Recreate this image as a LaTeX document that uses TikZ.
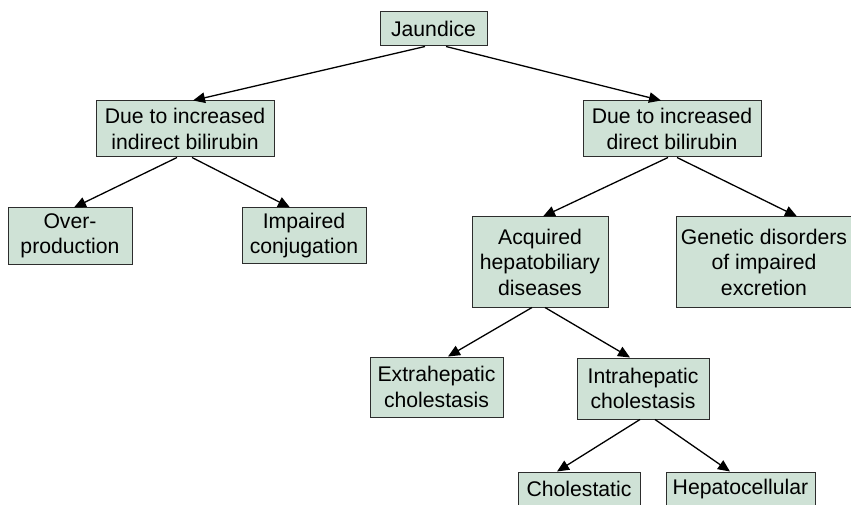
\documentclass[tikz,border=0pt]{standalone}
\usepackage{fontspec}
\setmainfont{Liberation Sans}
\usetikzlibrary{arrows.meta}
\definecolor{boxfill}{RGB}{207,226,214}
\definecolor{boxline}{RGB}{45,45,45}
\begin{document}
\begin{tikzpicture}[x=1pt,y=-1pt,
  box/.style={draw=boxline, line width=1pt, fill=boxfill, inner sep=0pt,
    align=center, font=\fontsize{21.2}{25.5}\selectfont},
  link/.style={line width=1.3pt, -{Triangle[length=12pt,width=10.5pt]}}]
\useasboundingbox (0,0) rectangle (851,505);
\clip (0,0) rectangle (851,505);

% classification boxes
\node[box, minimum width=107pt, minimum height=34pt] (jaundice) at (433.5,29) {Jaundice};
\node[box, minimum width=178pt, minimum height=56pt] (indirect) at (185,129) {Due to increased\\indirect bilirubin};
\node[box, minimum width=178pt, minimum height=56pt] (direct) at (672,129) {Due to increased\\direct bilirubin};
\node[box, minimum width=124pt, minimum height=56pt] (over) at (70,236) {Over-\\production};
\node[box, minimum width=124pt, minimum height=55pt] (impaired) at (304,235.5) {Impaired\\conjugation};
\node[box, minimum width=136pt, minimum height=90pt] (acquired) at (540,262) {Acquired\\hepatobiliary\\diseases};
\node[box, minimum width=176pt, minimum height=90pt] (genetic) at (764,262) {Genetic disorders\\of impaired\\excretion};
\node[box, minimum width=133pt, minimum height=60pt] (extra) at (436.5,387) {Extrahepatic\\cholestasis};
\node[box, minimum width=132pt, minimum height=61pt] (intra) at (643,388.5) {Intrahepatic\\cholestasis};
\node[box, minimum width=122pt, minimum height=34pt] (cholestatic) at (579,489) {Cholestatic};
\node[box, minimum width=149pt, minimum height=34pt] (hepatocellular) at (740.5,489) {Hepatocellular};

% connectors
\draw[link] ([xshift=-8.5pt]jaundice.south) -- ([xshift=8pt]indirect.north);
\draw[link] ([xshift=12.5pt]jaundice.south) -- ([xshift=-11pt]direct.north);
\draw[link] ([xshift=-8pt]indirect.south) -- ([xshift=4pt]over.north);
\draw[link] ([xshift=7pt]indirect.south) -- ([xshift=-14pt]impaired.north);
\draw[link] ([xshift=-4pt]direct.south) -- ([xshift=3pt]acquired.north);
\draw[link] ([xshift=5pt]direct.south) -- ([xshift=33pt]genetic.north);
\draw[link] ([xshift=-8pt]acquired.south) -- ([xshift=11.5pt]extra.north);
\draw[link] ([xshift=5pt]acquired.south) -- ([xshift=-13pt]intra.north);
\draw[link] ([xshift=-3pt]intra.south) -- ([xshift=-22pt]cholestatic.north);
\draw[link] ([xshift=12pt]intra.south) -- ([xshift=-10.5pt]hepatocellular.north);
\end{tikzpicture}
\end{document}
